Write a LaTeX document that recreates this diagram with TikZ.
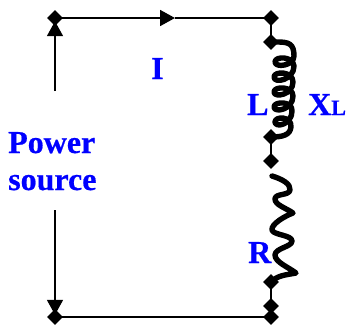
\documentclass[tikz,border=0pt]{standalone}
\usepackage{fontspec}
\setmainfont[BoldFeatures={FakeBold=0.6}]{Liberation Serif}
\usetikzlibrary{shapes.geometric,arrows.meta}
\tikzset{
  x=1pt,y=-1pt,
  dot/.style={diamond,fill=black,draw=none,inner sep=0pt,minimum width=16pt,minimum height=16pt},
  wire/.style={line width=1.8pt,black},
  part/.style={line width=5.4pt,black,line join=round,line cap=round},
  tag/.style={text=blue,font=\bfseries\fontsize{32}{37}\selectfont,inner sep=0pt,anchor=base west},
  head/.style={-{Triangle[length=15pt,width=16pt]}}
}
\begin{document}
\begin{tikzpicture}
\useasboundingbox (0,0) rectangle (346,330);
\node[dot] (tl) at (55,18) {};
\node[dot] (tr) at (271,18) {};
\node[dot] (la) at (271,42) {};
\node[dot] (lb) at (271,137) {};
\node[dot] (ra) at (271,161) {};
\node[dot] (rb) at (271,282) {};
\node[dot] (bx) at (271,306) {};
\node[dot] (br) at (271,317) {};
\node[dot] (bl) at (55,317) {};
\coordinate (mid) at (175,18);
\coordinate (up) at (55,91);
\coordinate (down) at (55,210);
\draw[wire,head] (tl.center) -- (mid);
\draw[wire] (mid) -- (tr.center);
\draw[wire] (tr.center) -- (la.center);
\draw[wire] (lb.center) -- (ra.center);
\draw[wire] (rb.center) -- (bx.center);
\draw[wire] (bx.center) -- (br.center);
\draw[wire] (br.center) -- (bl.center);
\draw[wire,head,shorten >=-5pt] (up) -- (tl);
\draw[wire,head,shorten >=-6pt] (down) -- (bl);
% inductor
\draw[part] (la.center) -- (278,42)
  .. controls (289,42) and (294,44) .. (294,56)
  .. controls (294,66) and (275,68) .. (275,62)
  .. controls (275,56) and (293,56) .. (294,66)
  .. controls (294,80) and (274,84) .. (274,77)
  .. controls (274,71) and (293,71) .. (293,82)
  .. controls (293,95) and (274,98) .. (274,92)
  .. controls (274,86) and (293,86) .. (293,96)
  .. controls (293,110) and (274,113) .. (274,107)
  .. controls (274,101) and (293,101) .. (292,111)
  .. controls (292,125) and (275,128) .. (275,122)
  .. controls (275,116) and (292,116) .. (291,127)
  .. controls (290,135) and (283,137) .. (lb.center);
% resistor
\draw[part] (272,176)
  .. controls (282,179) and (291,184) .. (290,190)
  .. controls (289,196) and (275,193) .. (275,199)
  .. controls (275,205) and (286,208) .. (293,213)
  .. controls (285,216) and (271,224) .. (272,230)
  .. controls (273,235) and (292,235) .. (292,241)
  .. controls (292,247) and (275,248) .. (275,255)
  .. controls (275,262) and (288,267) .. (296,273)
  .. controls (286,275) and (278,275) .. (rb.center);
\node[tag] at (151,79) {I};
\node[tag] at (8,153) {Power};
\node[tag] at (8,190) {source};
\node[tag] at (247,115) {L};
\node[tag] at (308,115) {X\fontsize{22}{26}\selectfont L};
\node[tag] at (248,263) {R};
\end{tikzpicture}
\end{document}
